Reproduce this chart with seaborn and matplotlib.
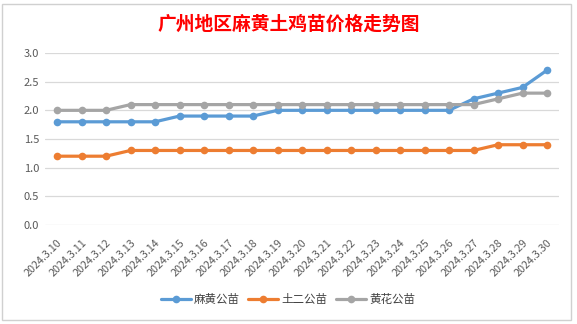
import matplotlib
matplotlib.use("Agg")
import matplotlib.pyplot as plt
from matplotlib.patches import Rectangle
import seaborn as sns
import pandas as pd

dates = ["2024.3.10", "2024.3.11", "2024.3.12", "2024.3.13", "2024.3.14", "2024.3.15",
         "2024.3.16", "2024.3.17", "2024.3.18", "2024.3.19", "2024.3.20", "2024.3.21",
         "2024.3.22", "2024.3.23", "2024.3.24", "2024.3.25", "2024.3.26", "2024.3.27",
         "2024.3.28", "2024.3.29", "2024.3.30"]
mahuang = [1.8, 1.8, 1.8, 1.8, 1.8, 1.9, 1.9, 1.9, 1.9, 2.0, 2.0, 2.0, 2.0, 2.0, 2.0,
           2.0, 2.0, 2.2, 2.3, 2.4, 2.7]
tuer = [1.2, 1.2, 1.2, 1.3, 1.3, 1.3, 1.3, 1.3, 1.3, 1.3, 1.3, 1.3, 1.3, 1.3, 1.3,
        1.3, 1.3, 1.3, 1.4, 1.4, 1.4]
huanghua = [2.0, 2.0, 2.0, 2.1, 2.1, 2.1, 2.1, 2.1, 2.1, 2.1, 2.1, 2.1, 2.1, 2.1, 2.1,
            2.1, 2.1, 2.1, 2.2, 2.3, 2.3]
series_names = ["麻黄公苗", "土二公苗", "黄花公苗"]
colors = ["#5b9bd5", "#ed7d31", "#a5a5a5"]
yticks = [0.0, 0.5, 1.0, 1.5, 2.0, 2.5, 3.0]
title = "广州地区麻黄土鸡苗价格走势图"

sns.set_theme(style="white")
plt.rcParams["font.family"] = ["Noto Sans CJK SC", "DejaVu Sans"]

rows = []
for name, vals in zip(series_names, [mahuang, tuer, huanghua]):
    for i, v in enumerate(vals):
        rows.append({"idx": i, "price": v, "series": name})
df = pd.DataFrame(rows)

fig = plt.figure(figsize=(5.77, 3.24), dpi=100)
fig.patch.set_facecolor("white")
fig.patches.append(Rectangle((2 / 577, 4 / 324), 569 / 577, 316 / 324,
                             transform=fig.transFigure, fill=False,
                             edgecolor="#d0d0d0", linewidth=1.0))

ax = fig.add_axes([44.75 / 577, 1 - 225 / 324, (559.25 - 44.75) / 577, (225 - 53) / 324])
sns.lineplot(data=df, x="idx", y="price", hue="series", hue_order=series_names,
             palette=colors, marker="o", markersize=5.5, markeredgewidth=0,
             linewidth=2.3, dashes=False, ax=ax, legend=True)

ax.set_xlim(-0.5, len(dates) - 0.5)
ax.set_ylim(0, 3.0)
ax.set_yticks(yticks)
ax.set_yticklabels([f"{t:.1f}" for t in yticks], fontsize=8, color="#595959")
ax.set_xticks(range(len(dates)))
ax.set_xticklabels(dates, rotation=45, ha="right", va="top", rotation_mode="anchor",
                   fontsize=7.8, color="#595959")
ax.tick_params(axis="y", length=0, pad=4)
ax.tick_params(axis="x", length=0, pad=9)
ax.grid(axis="y", color="#d9d9d9", linewidth=0.9)
ax.set_axisbelow(True)
for s in ax.spines.values():
    s.set_visible(False)
ax.set_xlabel("")
ax.set_ylabel("")

handles, labels = ax.get_legend_handles_labels()
ax.legend_.remove()
fig.legend(handles, labels, loc="center", bbox_to_anchor=(288 / 577, 1 - 300 / 324),
           ncol=3, frameon=False, fontsize=8.3, handlelength=2.6, columnspacing=0.7,
           handletextpad=0.3, labelcolor="#404040")

fig.text(289 / 577, 1 - 24 / 324, title, ha="center", va="center", fontsize=13.5,
         fontweight="bold", color="#ff0000")

fig.savefig("out.png", dpi=100)
